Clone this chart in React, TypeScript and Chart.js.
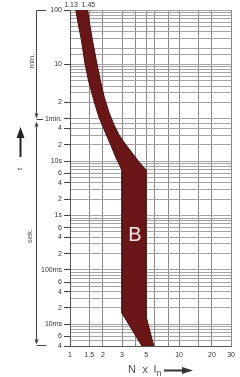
import React, { useEffect, useRef } from "react";
import { Chart, registerables } from "chart.js";
Chart.register(...registerables);

const FONT = "'Liberation Sans', Arial, sans-serif";

// B-curve band: lower limit (min) and upper limit (max), N x In vs time in seconds
const minN = [1.13, 1.195, 1.272, 1.369, 1.473, 1.602, 1.72, 1.854, 2.102, 2.385, 2.646, 2.877, 3.0, 3.0, 4.56];
const minT = [6000, 3177, 1686, 637, 310, 164, 100, 62, 34, 19, 11.4, 8.1, 6.6, 0.016, 0.004];
const maxN = [1.45, 1.52, 1.618, 1.76, 1.894, 2.059, 2.286, 2.54, 2.818, 3.264, 3.78, 4.37, 5.0, 5.0, 5.87];
const maxT = [6000, 3177, 1549, 637, 310, 151, 76.7, 46, 30.2, 19.8, 13.5, 9.2, 6.9, 0.0135, 0.004];

const bandLabel = "B";
const bandLabelN = 3.94;
const bandLabelT = 0.43;

// x axis (N x In)
const xGrid = [1, 1.5, 2, 3, 4, 5, 6, 8, 10, 15, 20, 30];
const xLabelValues = [1, 1.5, 2, 3, 5, 10, 20, 30];
const xLabelTexts = ["1", "1.5", "2", "3", "5", "10", "20", "30"];
const topValues = [1.13, 1.45];
const topTexts = ["1.13", "1.45"];

// y axis (time, seconds)
const yGrid = [
  6000, 5400, 4800, 4200, 3600, 3000, 2400, 1800, 1200, 900, 600,
  540, 480, 420, 360, 300, 240, 180, 120, 60,
  50, 40, 30, 20, 10,
  9, 8, 7, 6, 5, 4, 3, 2, 1,
  0.9, 0.8, 0.7, 0.6, 0.5, 0.4, 0.3, 0.2, 0.1,
  0.09, 0.08, 0.07, 0.06, 0.05, 0.04, 0.03, 0.02, 0.01,
  0.009, 0.008, 0.007, 0.006, 0.005, 0.004,
];
const yLabelValues = [6000, 600, 120, 60, 40, 20, 10, 6, 4, 2, 1, 0.6, 0.4, 0.2, 0.1, 0.06, 0.04, 0.02, 0.01, 0.006, 0.004];
const yLabelTexts = ["100", "10", "2", "1min.", "4", "2", "10s", "6", "4", "2", "1s", "6", "4", "2", "100ms", "6", "4", "2", "10ms", "6", "4"];

const Y_MIN = 0.004;
const Y_MAX = 6000;
const X_MIN = 1;
const X_MAX = 30;

function findIdx(arr: number[], v: number) {
  return arr.findIndex((a) => Math.abs(Math.log(a) - Math.log(v)) < 1e-6);
}

const decoPlugin = {
  id: "deco",
  afterDatasetsDraw(chart: any) {
    const { ctx } = chart;
    const x = chart.scales.x;
    const y = chart.scales.y;
    ctx.save();
    ctx.fillStyle = "#f4e8e8";
    ctx.font = `20px ${FONT}`;
    ctx.textAlign = "center";
    ctx.textBaseline = "middle";
    ctx.fillText(bandLabel, x.getPixelForValue(bandLabelN), y.getPixelForValue(bandLabelT));
    ctx.restore();
  },
  afterDraw(chart: any) {
    const { ctx } = chart;
    const x = chart.scales.x;
    const y = chart.scales.y;
    const yTop = Math.round(y.getPixelForValue(Y_MAX)) + 0.5;
    const yMin = Math.round(y.getPixelForValue(60)) + 0.5;
    const yBot = Math.round(y.getPixelForValue(Y_MIN)) - 0.5;
    ctx.save();

    // limit labels above the plot
    ctx.fillStyle = "#333";
    ctx.font = `7px ${FONT}`;
    ctx.textBaseline = "middle";
    ctx.textAlign = "right";
    ctx.fillText(topTexts[0], x.getPixelForValue(topValues[0]) + 2, yTop - 5);
    ctx.textAlign = "left";
    ctx.fillText(topTexts[1], x.getPixelForValue(topValues[1]) - 6, yTop - 5);

    ctx.strokeStyle = "#444";
    ctx.fillStyle = "#444";
    ctx.lineWidth = 1;
    const bx = 36.5;
    const line = (x1: number, y1: number, x2: number, y2: number) => {
      ctx.beginPath();
      ctx.moveTo(x1, y1);
      ctx.lineTo(x2, y2);
      ctx.stroke();
    };
    const tri = (cx: number, tipY: number, dir: number, w: number, h: number) => {
      ctx.beginPath();
      ctx.moveTo(cx, tipY);
      ctx.lineTo(cx - w / 2, tipY - dir * h);
      ctx.lineTo(cx + w / 2, tipY - dir * h);
      ctx.closePath();
      ctx.fill();
    };
    // minutes bracket
    line(bx, yTop, 46, yTop);
    line(bx, yTop, bx, yMin - 5);
    tri(bx, yMin - 1, 1, 4, 5);
    // 1 min leader
    line(bx, yMin, 43, yMin);
    // seconds bracket
    tri(bx, yMin + 2, -1, 4, 5);
    line(bx, yMin + 6, bx, yBot - 5);
    tri(bx, yBot - 1, 1, 4, 5);
    line(bx, yBot, 46, yBot);

    const rot = (text: string, cx: number, cy: number, size: number) => {
      ctx.save();
      ctx.translate(cx, cy);
      ctx.rotate(-Math.PI / 2);
      ctx.font = `${size}px ${FONT}`;
      ctx.textAlign = "center";
      ctx.textBaseline = "middle";
      ctx.fillText(text, 0, 0);
      ctx.restore();
    };
    ctx.fillStyle = "#555";
    rot("min.", 32, (yTop + yMin) / 2 - 4, 8);
    rot("sek.", 30, 236, 8);
    rot("t", 20, 169, 8);

    // t arrow
    ctx.fillStyle = "#222";
    ctx.strokeStyle = "#222";
    ctx.lineWidth = 2;
    line(20.5, 157, 20.5, 136);
    ctx.beginPath();
    ctx.moveTo(20.5, 127);
    ctx.lineTo(16.5, 138);
    ctx.lineTo(24.5, 138);
    ctx.closePath();
    ctx.fill();

    // x axis title: N x In ->
    ctx.fillStyle = "#555";
    ctx.textAlign = "left";
    ctx.textBaseline = "alphabetic";
    ctx.font = `11px ${FONT}`;
    ctx.fillText("N", 128, 373);
    ctx.fillText("x", 142.5, 373);
    ctx.fillText("I", 153.5, 373);
    ctx.font = `9px ${FONT}`;
    ctx.fillText("n", 156.5, 375.5);
    ctx.strokeStyle = "#333";
    ctx.fillStyle = "#333";
    ctx.lineWidth = 2;
    line(164, 370.5, 184, 370.5);
    ctx.beginPath();
    ctx.moveTo(193, 370.5);
    ctx.lineTo(182, 367);
    ctx.lineTo(182, 374);
    ctx.closePath();
    ctx.fill();
    ctx.restore();
  },
};

export default function App() {
  const ref = useRef<HTMLCanvasElement | null>(null);
  useEffect(() => {
    if (!ref.current) return;
    const polygon = [
      ...minN.map((n, i) => ({ x: n, y: minT[i] })),
      ...maxN.map((n, i) => ({ x: n, y: maxT[i] })).reverse(),
    ];
    const chart = new Chart(ref.current, {
      type: "line",
      data: {
        datasets: [
          {
            data: polygon,
            borderColor: "#4a0e0e",
            borderWidth: 1,
            backgroundColor: "#6b1616",
            fill: "shape",
            pointRadius: 0,
            tension: 0,
            xAxisID: "x",
            yAxisID: "y",
          } as any,
        ],
      },
      options: {
        animation: false,
        responsive: false,
        layout: { padding: { left: 0, right: 7, top: 10, bottom: 0 } },
        plugins: { legend: { display: false }, tooltip: { enabled: false } },
        scales: {
          x: {
            type: "logarithmic",
            position: "bottom",
            min: X_MIN,
            max: X_MAX,
            afterBuildTicks: (s: any) => {
              s.ticks = xGrid.map((v) => ({ value: v }));
            },
            afterFit: (s: any) => {
              s.height = 31;
            },
            grid: { color: "#8a8a8a", lineWidth: 1, drawTicks: false },
            border: { color: "#555", width: 1 },
            ticks: {
              autoSkip: false,
              maxRotation: 0,
              minRotation: 0,
              padding: 5,
              color: "#333",
              font: { size: 7, family: FONT },
              callback: (v: any) => {
                const i = findIdx(xLabelValues, Number(v));
                return i >= 0 ? xLabelTexts[i] : "";
              },
            },
          },
          y: {
            type: "logarithmic",
            position: "left",
            min: Y_MIN,
            max: Y_MAX,
            afterBuildTicks: (s: any) => {
              s.ticks = yGrid.map((v) => ({ value: v }));
            },
            afterFit: (s: any) => {
              s.width = 70;
            },
            grid: {
              color: "#a3a3a3",
              lineWidth: 1,
              drawTicks: true,
              tickLength: 6,
              tickColor: (c: any) =>
                c.tick && findIdx(yLabelValues, c.tick.value) >= 0 ? "#444" : "rgba(0,0,0,0)",
            },
            border: { color: "#555", width: 1 },
            ticks: {
              autoSkip: false,
              padding: 2,
              color: "#333",
              font: { size: 7, family: FONT },
              callback: (v: any) => {
                const i = findIdx(yLabelValues, Number(v));
                return i >= 0 ? yLabelTexts[i] : "";
              },
            },
          },
        },
      } as any,
      plugins: [decoPlugin],
    });
    return () => chart.destroy();
  }, []);
  return (
    <div style={{ position: "fixed", left: 0, top: 0, width: 240, height: 377, background: "#fff" }}>
      <canvas ref={ref} width={240} height={377} style={{ display: "block", width: 240, height: 377 }} />
    </div>
  );
}
